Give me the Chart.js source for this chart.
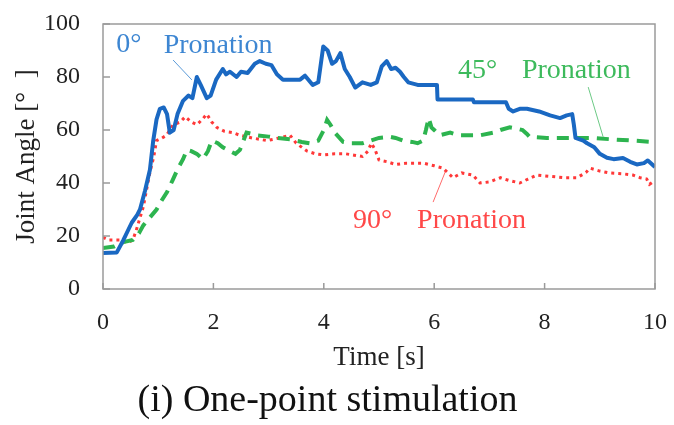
<!DOCTYPE html>
<html>
<head>
<meta charset="utf-8">
<script src="https://cdn.jsdelivr.net/npm/chart.js@4"></script>
<style>
  html, body { margin: 0; padding: 0; background: #fff; }
  #wrap { width: 674px; height: 425px; }
</style>
</head>
<body>
<div id="wrap"><canvas id="myChart" width="674" height="425"></canvas></div>
<script>
// time [s] and joint angle [deg]
const t0 = [0, 0.25, 0.37, 0.52, 0.62, 0.67, 0.76, 0.85, 0.91, 0.97, 1.03, 1.1, 1.16, 1.21, 1.28, 1.35, 1.45, 1.55, 1.62, 1.7, 1.77, 1.88, 1.95, 2.05, 2.17, 2.23, 2.3, 2.42, 2.5, 2.62, 2.75, 2.84, 2.95, 3.05, 3.15, 3.26, 3.4, 3.57, 3.66, 3.8, 3.9, 3.99, 4.07, 4.15, 4.22, 4.3, 4.38, 4.47, 4.57, 4.7, 4.85, 4.96, 5.05, 5.14, 5.22, 5.3, 5.38, 5.45, 5.53, 5.7, 6.05, 6.06, 6.7, 6.72, 7.3, 7.35, 7.43, 7.55, 7.68, 7.9, 8.1, 8.28, 8.4, 8.5, 8.53, 8.56, 8.7, 8.77, 8.9, 9.0, 9.13, 9.25, 9.42, 9.55, 9.67, 9.8, 9.87, 9.95, 10];
const angle0 = [13.6, 13.8, 18.5, 25, 28, 30, 37, 45, 56, 64, 68, 68.5, 66, 59, 60, 66, 71, 73, 72, 80, 77, 72, 73, 79, 83, 81, 82, 80, 82, 81.5, 85, 86, 85, 84.5, 81, 79, 79, 79, 80.5, 77, 78, 91.5, 90, 85, 86, 89, 83, 80, 76, 78, 77, 78, 84, 86, 83, 83.5, 82, 80, 78, 77, 77, 71.5, 71.5, 70.5, 70.5, 68, 67, 68, 68, 67, 65.5, 64.5, 65.5, 66, 62, 57, 56, 55, 53.5, 51, 49.5, 49, 49.4, 48, 47, 47.5, 48.5, 47, 46];

const t45 = [0, 0.2, 0.37, 0.54, 0.65, 0.73, 0.85, 0.97, 1.05, 1.16, 1.26, 1.36, 1.45, 1.52, 1.6, 1.7, 1.81, 1.9, 1.97, 2.08, 2.17, 2.3, 2.4, 2.48, 2.6, 2.7, 2.79, 3.0, 3.15, 3.4, 3.6, 3.75, 3.9, 4.0, 4.06, 4.12, 4.2, 4.35, 4.5, 4.7, 4.85, 5.0, 5.2, 5.3, 5.43, 5.6, 5.7, 5.8, 5.85, 5.9, 5.95, 6.0, 6.1, 6.29, 6.45, 6.6, 6.83, 7.07, 7.2, 7.37, 7.5, 7.6, 7.68, 7.73, 8.04, 8.5, 8.88, 9.2, 9.6, 9.96, 10];
const angle45 = [15.5, 16, 17.7, 18.5, 21, 24, 27, 30, 33, 36.6, 41, 45.6, 49, 52.5, 52, 51, 49, 52, 56, 55, 53.5, 52, 51, 52.5, 59, 58.5, 58, 57.5, 57, 56.5, 55.5, 55, 56, 60, 63.8, 62, 59, 55.5, 55, 55, 56, 57, 57.4, 57, 56, 55.5, 55, 56, 60, 64.5, 61, 60, 58, 59, 58, 58, 58, 59, 60, 61, 60.5, 60, 58.5, 57.4, 57, 57, 57, 56.5, 56, 55.5, 55.5];

const t90 = [0, 0.1, 0.3, 0.45, 0.54, 0.6, 0.73, 0.85, 0.92, 0.97, 1.07, 1.15, 1.27, 1.4, 1.49, 1.6, 1.7, 1.8, 1.88, 1.97, 2.06, 2.2, 2.35, 2.48, 2.7, 2.97, 3.2, 3.39, 3.5, 3.7, 3.85, 4.0, 4.2, 4.4, 4.55, 4.7, 4.8, 4.86, 4.92, 5.0, 5.15, 5.3, 5.5, 5.8, 6.0, 6.16, 6.34, 6.5, 6.7, 6.83, 7.0, 7.2, 7.35, 7.55, 7.7, 7.86, 8.1, 8.35, 8.59, 8.75, 8.82, 9.0, 9.18, 9.4, 9.6, 9.73, 9.85, 9.9, 10];
const angle90 = [19.5, 18.5, 18.5, 17.5, 18.5, 22, 31, 44, 50, 56, 57, 58, 62, 63, 65, 63, 62, 64, 66, 63, 61, 59.5, 59, 58, 57, 56, 57, 58, 55, 52, 51, 50.6, 51, 51, 50.5, 50, 52, 55, 53, 48.7, 48, 47, 47.5, 47.5, 46.5, 45.6, 42, 43.8, 43, 40, 40.4, 42, 41, 40, 41.5, 43, 42.5, 42, 42, 44, 45.6, 44.5, 43.8, 43.5, 43, 42, 41.5, 39.5, 41];

const xTicks = [0, 2, 4, 6, 8, 10];
const yTicks = [0, 20, 40, 60, 80, 100];

const blue = '#1a68c2';
const green = '#2db44f';
const red = '#ff3838';
const serif = '"Liberation Serif", "DejaVu Serif", serif';

// in-plot labels, placed in data units
const labels = [
    { text: '0°', x: 0.24, y: 89.4, color: '#3d86d2' },
    { text: 'Pronation', x: 1.1, y: 89.2, color: '#3d86d2' },
    { text: '45°', x: 6.43, y: 79.6, color: '#3dba5c' },
    { text: 'Pronation', x: 7.59, y: 79.6, color: '#3dba5c' },
    { text: '90°', x: 4.53, y: 23, color: '#ff4848' },
    { text: 'Pronation', x: 5.69, y: 23, color: '#ff4848' }
];
const leaders = [
    { from: [1.27, 86.4], to: [1.61, 78.9], color: '#5a9ad8' },
    { from: [8.79, 76.2], to: [9.06, 57.4], color: '#6cc985' },
    { from: [5.98, 32.8], to: [6.2, 44.2], color: '#ff6a6a' }
];

function pairs(xs, ys) {
    return xs.map((x, i) => ({ x: x, y: ys[i] }));
}

// frame, inward ticks and the in-plot labels
const framePlugin = {
    id: 'frame',
    afterDatasetsDraw(chart) {
        const ctx = chart.ctx;
        const a = chart.chartArea;
        const xs = chart.scales.x;
        const ys = chart.scales.y;
        ctx.save();
        ctx.strokeStyle = '#9a9a9a';
        ctx.lineWidth = 1.5;
        ctx.strokeRect(a.left, a.top, a.right - a.left, a.bottom - a.top);
        ctx.beginPath();
        yTicks.forEach(v => {
            const py = ys.getPixelForValue(v);
            ctx.moveTo(a.left, py);
            ctx.lineTo(a.left + 7, py);
        });
        xTicks.forEach(v => {
            const px = xs.getPixelForValue(v);
            ctx.moveTo(px, a.bottom);
            ctx.lineTo(px, a.bottom - 6);
        });
        ctx.stroke();

        ctx.lineWidth = 1;
        leaders.forEach(l => {
            ctx.strokeStyle = l.color;
            ctx.beginPath();
            ctx.moveTo(xs.getPixelForValue(l.from[0]), ys.getPixelForValue(l.from[1]));
            ctx.lineTo(xs.getPixelForValue(l.to[0]), ys.getPixelForValue(l.to[1]));
            ctx.stroke();
        });

        ctx.font = '28px ' + serif;
        ctx.textBaseline = 'alphabetic';
        ctx.textAlign = 'left';
        labels.forEach(l => {
            ctx.fillStyle = l.color;
            ctx.fillText(l.text, xs.getPixelForValue(l.x), ys.getPixelForValue(l.y));
        });
        ctx.restore();
    }
};

function createChart() {
    const ctx = document.getElementById('myChart');
    new Chart(ctx, {
        type: 'line',
        data: {
            datasets: [{
                label: '0° Pronation',
                data: pairs(t0, angle0),
                borderColor: blue,
                borderWidth: 4,
                borderJoinStyle: 'round',
                pointRadius: 0,
                tension: 0
            }, {
                label: '45° Pronation',
                data: pairs(t45, angle45),
                borderColor: green,
                borderWidth: 4,
                borderDash: [12, 8],
                pointRadius: 0,
                tension: 0
            }, {
                label: '90° Pronation',
                data: pairs(t90, angle90),
                borderColor: red,
                borderWidth: 3,
                borderDash: [3, 4],
                pointRadius: 0,
                tension: 0
            }]
        },
        options: {
            responsive: false,
            animation: false,
            events: [],
            layout: { padding: { top: 24, right: 19, left: 0, bottom: 0 } },
            plugins: {
                legend: { display: false },
                tooltip: { enabled: false },
                title: {
                    display: true,
                    position: 'bottom',
                    text: '(i) One-point stimulation',
                    color: '#111',
                    font: { family: serif, size: 38, weight: 'normal' },
                    padding: { top: 0, bottom: 1 }
                }
            },
            scales: {
                x: {
                    type: 'linear',
                    min: 0,
                    max: 10,
                    afterBuildTicks: s => { s.ticks = xTicks.map(v => ({ value: v })); },
                    grid: { display: false, drawTicks: false },
                    border: { display: false },
                    ticks: {
                        color: '#222',
                        padding: 19,
                        maxRotation: 0,
                        font: { family: serif, size: 24 }
                    },
                    title: {
                        display: true,
                        text: 'Time [s]',
                        color: '#222',
                        font: { family: serif, size: 27 },
                        padding: { top: 0, bottom: 4 }
                    },
                    afterFit: s => {
                        s.height = 89.4;
                        s.paddingLeft = 0;
                        s.paddingRight = 0;
                    }
                },
                y: {
                    min: 0,
                    max: 100,
                    afterBuildTicks: s => { s.ticks = yTicks.map(v => ({ value: v })); },
                    grid: { display: false, drawTicks: false },
                    border: { display: false },
                    ticks: {
                        color: '#222',
                        padding: 23,
                        font: { family: serif, size: 24 }
                    },
                    title: {
                        display: true,
                        text: 'Joint Angle [°  ]',
                        color: '#222',
                        font: { family: serif, size: 27 },
                        padding: { top: 11, bottom: 0 }
                    },
                    afterFit: s => {
                        s.width = 103;
                        s.paddingTop = 0;
                        s.paddingBottom = 0;
                    }
                }
            }
        },
        plugins: [framePlugin]
    });
}

createChart();
</script>
</body>
</html>
